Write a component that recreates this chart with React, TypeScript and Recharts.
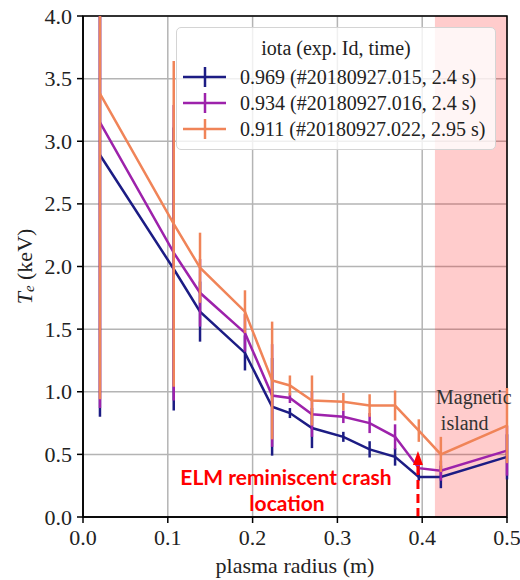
import React from 'react';
import {
  LineChart, Line, XAxis, YAxis, CartesianGrid, ErrorBar, Legend,
  ReferenceArea, ReferenceLine, ReferenceDot, Label
} from 'recharts';

// plasma radius (m) of each measurement point
const radius = [0.02, 0.107, 0.138, 0.191, 0.223, 0.244, 0.27, 0.307, 0.338, 0.368, 0.396, 0.422, 0.5];

// Te (keV) and its error for each iota case
const te969 = [2.89, 1.98, 1.64, 1.31, 0.88, 0.83, 0.71, 0.64, 0.54, 0.48, 0.32, 0.32, 0.48];
const err969 = [2.09, 1.13, 0.24, 0.14, 0.39, 0.04, 0.16, 0.04, 0.065, 0.07, 0.03, 0.09, 0.18];
const te934 = [3.15, 2.11, 1.79, 1.47, 0.97, 0.95, 0.82, 0.8, 0.75, 0.64, 0.39, 0.37, 0.53];
const err934 = [2.28, 1.18, 0.27, 0.15, 0.41, 0.04, 0.18, 0.05, 0.08, 0.1, 0.04, 0.08, 0.2];
const te911 = [3.38, 2.34, 1.99, 1.64, 1.09, 1.05, 0.93, 0.92, 0.89, 0.89, 0.69, 0.5, 0.73];
const err911 = [2.44, 1.3, 0.28, 0.17, 0.47, 0.08, 0.2, 0.07, 0.09, 0.12, 0.09, 0.14, 0.3];

const xTicks = [0, 0.1, 0.2, 0.3, 0.4, 0.5];
const yTicks = [0, 0.5, 1, 1.5, 2, 2.5, 3, 3.5, 4];
const Y_MAX = 4;

const series = [
  { key: 't969', err: 'e969', name: '0.969 (#20180927.015, 2.4 s)', color: '#1c1c84' },
  { key: 't934', err: 'e934', name: '0.934 (#20180927.016, 2.4 s)', color: '#9d22ab' },
  { key: 't911', err: 'e911', name: '0.911 (#20180927.022, 2.95 s)', color: '#f08458' },
];

// error bars are cut at the top of the axes, like the clipped plot
const bar = (t: number, e: number) => [e, Math.min(e, Y_MAX - t)];

const rows = radius.map((r, i) => ({
  r,
  t969: te969[i], e969: bar(te969[i], err969[i]),
  t934: te934[i], e934: bar(te934[i], err934[i]),
  t911: te911[i], e911: bar(te911[i], err911[i]),
}));

const SERIF = '"Liberation Serif", "Times New Roman", serif';

const XTick = ({ x, y, payload }: any) => (
  <text x={x} y={y + 16} textAnchor="middle" style={{ fontFamily: SERIF }} fontSize={22} fill="#222">
    {payload.value.toFixed(1)}
  </text>
);

const YTick = ({ x, y, payload }: any) => (
  <text x={x} y={y} textAnchor="end" dominantBaseline="central" style={{ fontFamily: SERIF }} fontSize={22} fill="#222">
    {payload.value.toFixed(1)}
  </text>
);

const YLabel = ({ viewBox }: any) => {
  const cx = viewBox.x + 24;
  const cy = viewBox.y + viewBox.height / 2;
  return (
    <text x={cx} y={cy} transform={`rotate(-90 ${cx} ${cy})`} textAnchor="middle"
      dominantBaseline="central" style={{ fontFamily: SERIF }} fontSize={22} fill="#222">
      <tspan fontStyle="italic">T</tspan>
      <tspan fontStyle="italic" fontSize={15} dy={5}>e</tspan>
      <tspan dy={-5}> (keV)</tspan>
    </text>
  );
};

const LegendBox = () => (
  <div style={{
    boxSizing: 'border-box', width: 320, height: 123,
    background: 'rgba(255,255,255,0.8)', border: '1px solid #d4d4d4', borderRadius: 5,
    fontFamily: SERIF, fontSize: 20, color: '#222',
  }}>
    <div style={{ textAlign: 'center', lineHeight: '20px', marginTop: 10 }}>iota (exp. Id, time)</div>
    <div style={{ marginTop: 6 }}>
      {series.map(s => (
        <div key={s.key} style={{ display: 'flex', alignItems: 'center', height: 26 }}>
          <svg width={63} height={26}>
            <line x1={6} x2={49} y1={13} y2={13} stroke={s.color} strokeWidth={2.5} />
            <line x1={28} x2={28} y1={3} y2={23} stroke={s.color} strokeWidth={2.5} />
          </svg>
          <span style={{ whiteSpace: 'nowrap' }}>{s.name}</span>
        </div>
      ))}
    </div>
  </div>
);

const textAt = (words: string, anchor: string, style: any) => (props: any) => (
  <text x={props.cx} y={props.cy} textAnchor={anchor} dominantBaseline="central"
    style={{ fontFamily: style.fontFamily }} fontWeight={style.fontWeight} fontSize={style.fontSize} fill={style.fill}>
    {words}
  </text>
);

const elmStyle = { fontFamily: 'Lato, "Open Sans", sans-serif', fontWeight: 700, fontSize: 21, fill: '#ff0000' };
const islandStyle = { fontFamily: SERIF, fontWeight: 400, fontSize: 20, fill: '#333' };

const ArrowHead = (props: any) => (
  <path d={`M${props.cx},${props.cy} L${props.cx - 5},${props.cy + 14} L${props.cx + 5},${props.cy + 14} Z`} fill="#ff0000" />
);

export default function App() {
  return (
    <div style={{ position: 'absolute', left: 0, top: 0 }}>
      <LineChart width={520} height={580} data={rows} margin={{ top: 16, right: 13, bottom: 0, left: 0 }}>
        <CartesianGrid stroke="#b4b4b4" strokeWidth={1.5} />
        <ReferenceArea x1={0.415} x2={0.5} y1={0} y2={4} fill="#ff0000" fillOpacity={0.2} stroke="none" />
        <XAxis dataKey="r" type="number" domain={[0, 0.5]} ticks={xTicks} height={63}
          tick={<XTick />} tickSize={6} tickMargin={6}
          axisLine={{ stroke: '#000', strokeWidth: 1.5 }} tickLine={{ stroke: '#000', strokeWidth: 1.5 }}>
          <Label value="plasma radius (m)" position="insideBottom" offset={7}
            style={{ fontFamily: SERIF, fontSize: 22, fill: '#222' }} />
        </XAxis>
        <YAxis type="number" domain={[0, Y_MAX]} ticks={yTicks} allowDataOverflow width={83}
          tick={<YTick />} tickSize={6} tickMargin={5}
          axisLine={{ stroke: '#000', strokeWidth: 1.5 }} tickLine={{ stroke: '#000', strokeWidth: 1.5 }}
          label={<YLabel />} />
        <ReferenceArea x1={0} x2={0.5} y1={0} y2={Y_MAX} fill="none" stroke="#000" strokeWidth={1.5} />
        {series.map(s => (
          <Line key={s.key} dataKey={s.key} name={s.name} type="linear" stroke={s.color}
            strokeWidth={2.5} dot={false} isAnimationActive={false}>
            <ErrorBar dataKey={s.err} direction="y" width={0} stroke={s.color} strokeWidth={2.5} />
          </Line>
        ))}
        <ReferenceLine segment={[{ x: 0.395, y: 0 }, { x: 0.395, y: 0.415 }]} stroke="#ff0000"
          strokeWidth={3} strokeDasharray="9 5" />
        <ReferenceDot x={0.395} y={0.527} r={1} shape={ArrowHead} />
        <ReferenceDot x={0.2394} y={0.327} r={1} shape={textAt('ELM reminiscent crash', 'middle', elmStyle)} />
        <ReferenceDot x={0.2406} y={0.112} r={1} shape={textAt('location', 'middle', elmStyle)} />
        <ReferenceDot x={0.4163} y={0.958} r={1} shape={textAt('Magnetic', 'start', islandStyle)} />
        <ReferenceDot x={0.422} y={0.75} r={1} shape={textAt('island', 'start', islandStyle)} />
        <Legend layout="vertical" verticalAlign="middle" align="center" content={<LegendBox />}
          wrapperStyle={{ position: 'absolute', left: 176, top: 27, width: 320, height: 123 }} />
      </LineChart>
    </div>
  );
}
